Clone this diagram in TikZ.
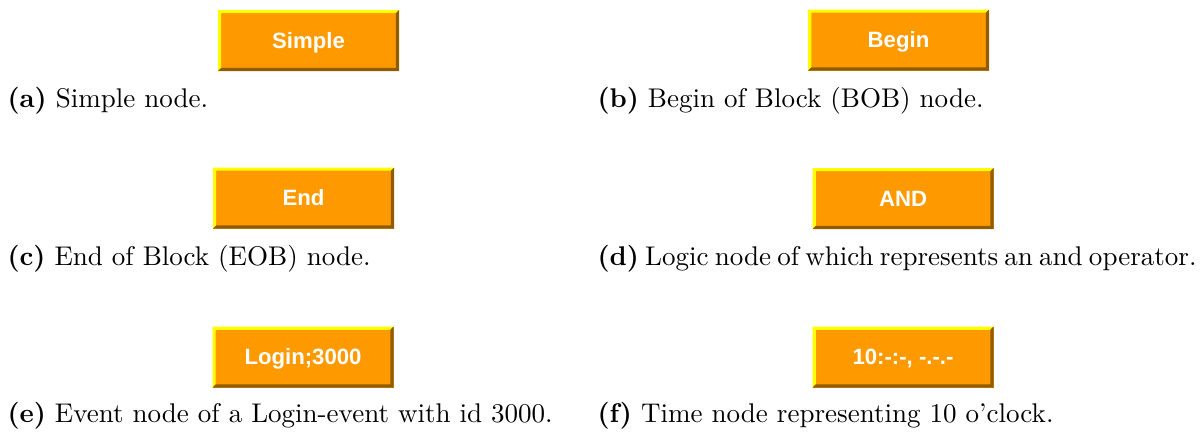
\documentclass[tikz,border=0pt]{standalone}
\usepackage{fontspec}
\newfontfamily\buttonfont{Liberation Sans}
\usetikzlibrary{calc}
\definecolor{btnfill}{HTML}{FF9900}
\definecolor{btnlight}{HTML}{FFFF00}
\definecolor{btndark}{HTML}{8F5C00}
\tikzset{
  nodebutton/.style={
    fill=btnfill, inner sep=0pt,
    minimum width=181*0.37pt, minimum height=61*0.37pt,
    text height=5.9pt, text depth=0pt,
    text=white, font=\buttonfont\bfseries\fontsize{8.2}{9}\selectfont,
    path picture={
      \def\pb{path picture bounding box}
      % raised bevel: light on top and left, dark on bottom and right
      \fill[btnlight] (\pb.north west) -- (\pb.north east)
        -- ([shift={(-1.2pt,-1.2pt)}]\pb.north east)
        -- ([shift={(1.2pt,-1.2pt)}]\pb.north west)
        -- ([shift={(1.2pt,1.2pt)}]\pb.south west)
        -- (\pb.south west) -- cycle;
      \fill[btndark] (\pb.south east) -- (\pb.north east)
        -- ([shift={(-1.2pt,-1.2pt)}]\pb.north east)
        -- ([shift={(-1.2pt,1.2pt)}]\pb.south east)
        -- ([shift={(1.2pt,1.2pt)}]\pb.south west)
        -- (\pb.south west) -- cycle;
    }
  },
  caption/.style={anchor=base west, inner sep=0pt, font=\fontsize{10}{12}\selectfont}
}
\begin{document}
\begin{tikzpicture}[x=0.37pt, y=-0.37pt]
  \useasboundingbox (0,0) rectangle (1202,433);

  % left column
  \node[nodebutton] (simple) at (308.5,40.5) {Simple};
  \node[caption] (capa) at (7,107) {\textbf{(a)} Simple node.};
  \node[nodebutton] (end) at (303.5,198) {End};
  \node[caption] (capc) at (7,265) {\textbf{(c)} End of Block (EOB) node.};
  \node[nodebutton] (event) at (303,357) {Login;3000};
  \node[caption] (cape) at (7,422) {\textbf{(e)} Event node of a Login-event with id 3000.};

  % right column
  \node[nodebutton] (begin) at (898.5,40) {Begin};
  \node[caption] (capb) at (597,107) {\textbf{(b)} Begin of Block (BOB) node.};
  \node[nodebutton] (and) at (903,198.5) {AND};
  % this caption fills its line, so its word spaces are squeezed
  \node[caption] (capd) at (597,265) {\spaceskip=2.3pt\textbf{(d)} Logic node of which represents an and operator.};
  \node[nodebutton] (time) at (903,357) {10:-:-, -.-.-};
  \node[caption] (capf) at (597,422) {\textbf{(f)} Time node representing 10 o'clock.};
\end{tikzpicture}
\end{document}
